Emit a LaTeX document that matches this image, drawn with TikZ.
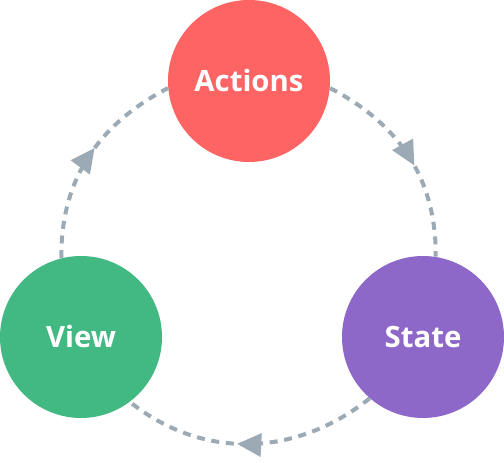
\documentclass[tikz,border=0pt]{standalone}
\usepackage{fontspec}
\setmainfont{Open Sans}
\usetikzlibrary{arrows.meta,decorations.markings}
\definecolor{actred}{RGB}{255,100,100}
\definecolor{viewgreen}{RGB}{66,184,131}
\definecolor{statepurple}{RGB}{142,104,201}
\definecolor{loopgray}{RGB}{155,170,180}

\begin{document}
\begin{tikzpicture}[x=0.75pt, y=0.75pt,
    blob/.style={circle, minimum size=121.5pt, inner sep=0pt, text=white,
        font=\fontsize{22}{26}\selectfont\bfseries},
    tri/.tip={Triangle[length=18pt, width=18pt, line width=0pt]},
    flow/.style={loopgray, line width=3pt, dash pattern=on 6pt off 5pt,
        postaction={decorate, decoration={markings,
            mark=at position 0.55 with {\arrow{tri}}}}}]
    \useasboundingbox (0,0) rectangle (504,463);

    \node[blob, fill=actred] (actions) at (249,382) {Actions};
    \node[blob, fill=viewgreen] (view) at (81,126) {View};
    \node[blob, fill=statepurple] (state) at (423,126) {State};

    \draw[flow] (view.104) to[out=90.6, in=207.4] (actions.185);
    \draw[flow] (actions.355) to[out=-27.4, in=89.4] (state.81);
    \draw[flow] (state.229) to[out=218.6, in=-38.6] (view.307);

\end{tikzpicture}
\end{document}
